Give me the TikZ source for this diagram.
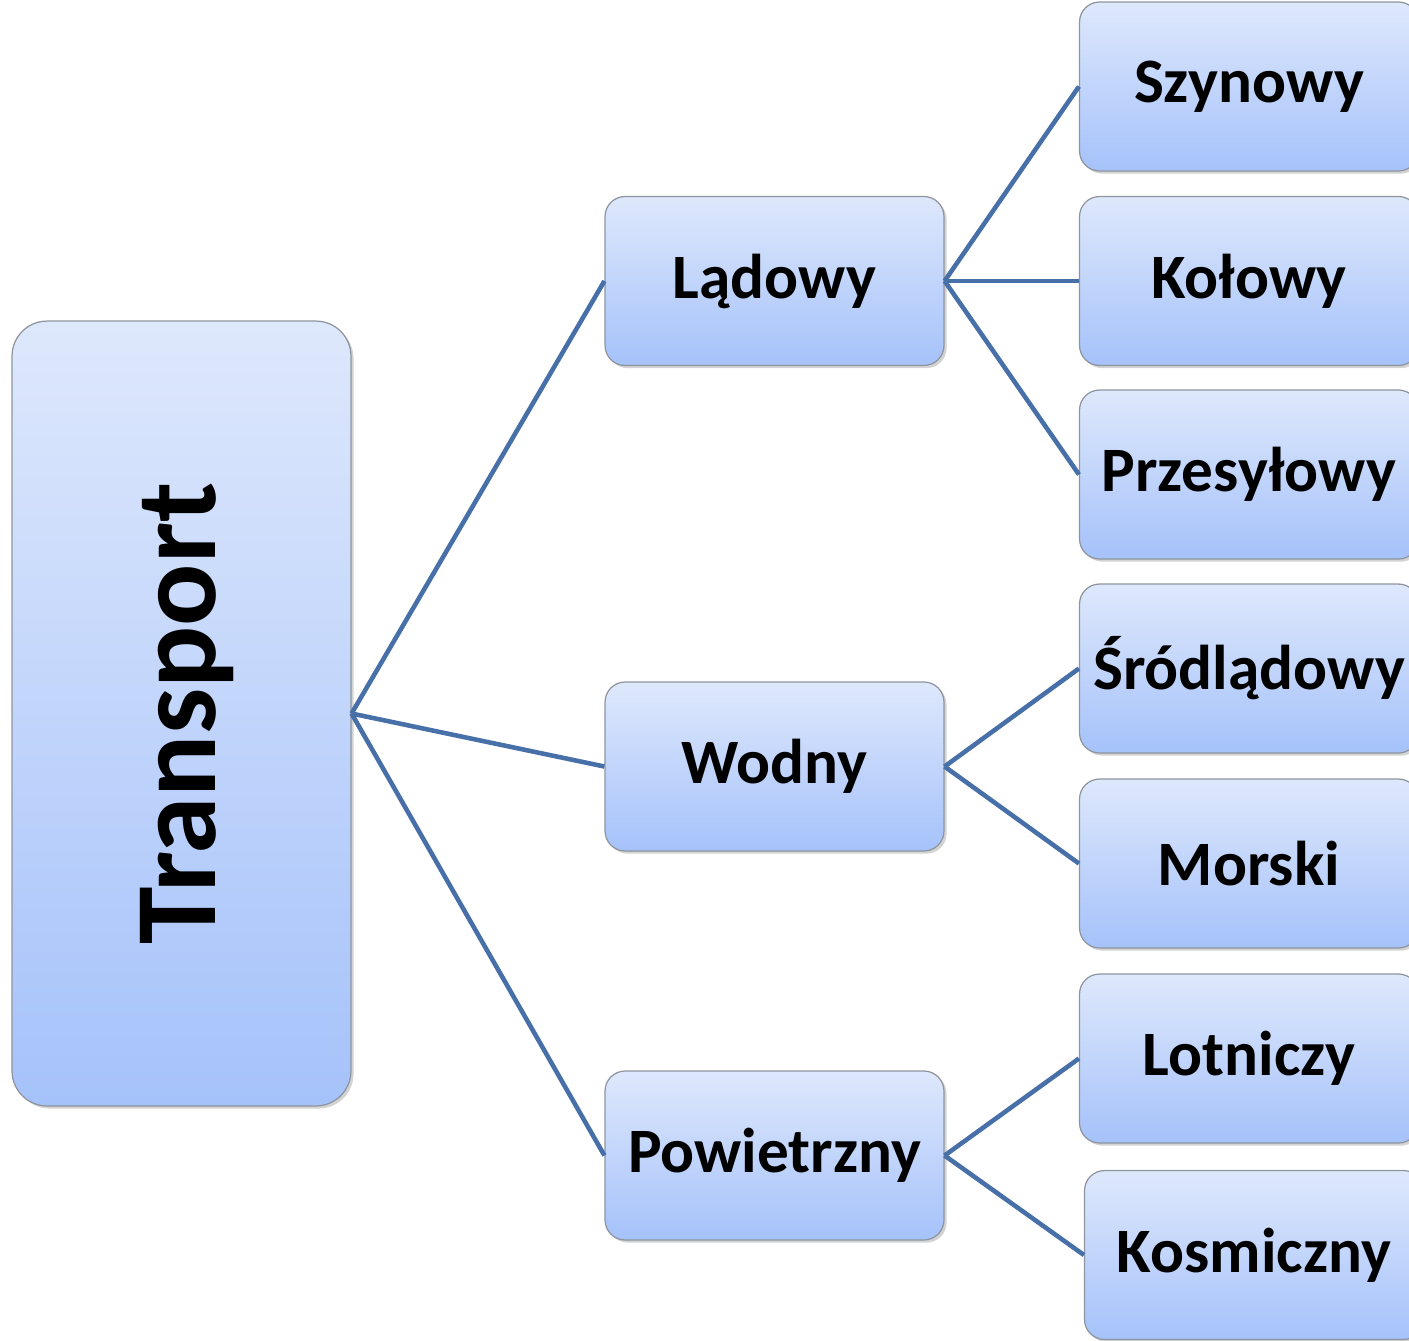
\documentclass[tikz,border=0pt]{standalone}
\usepackage{fontspec}
\setmainfont{Carlito}
\usetikzlibrary{shadows}

\definecolor{boxtop}{HTML}{DEE8FC}
\definecolor{boxbot}{HTML}{A5C2FA}
\definecolor{boxline}{HTML}{8E959E}
\definecolor{link}{HTML}{4870A8}

\begin{document}
\begin{tikzpicture}[x=0.02cm,y=-0.02cm,
  box/.style={draw=boxline,line width=0.7pt,top color=boxtop,bottom color=boxbot,
    rounded corners=0.4cm,minimum width=6.78cm,minimum height=3.38cm,
    font=\fontsize{36}{40}\selectfont\bfseries,
    drop shadow={opacity=0.35,shadow xshift=1.5pt,shadow yshift=-1.5pt}},
  link/.style={draw=link,line width=2.6pt}]
  \useasboundingbox (0,0) rectangle (1409,1340);
  \clip (0,0) rectangle (1409,1340);
 % \draw[help lines] (0,0) grid (1409,1340);
  \node[box,minimum height=15.7cm,rounded corners=0.7cm] (trans) at (181.5,713.5)
     {\hspace*{0.22cm}\rotatebox{90}{\fontsize{66}{70}\selectfont Transport}};
  \node[box] (lad)  at (774.5,281)    {Lądowy};
  \node[box] (wod)  at (774.5,766.5)  {Wodny};
  \node[box] (pow)  at (774.5,1155.5) {Powietrzny};
  \node[box] (szy)  at (1249,86.5)    {Szynowy};
  \node[box] (kol)  at (1249,281)     {Kołowy};
  \node[box] (prz)  at (1249,474.5)   {Przesyłowy};
  \node[box] (sro)  at (1249,668.5)   {Śródlądowy};
  \node[box] (mor)  at (1249,863.5)   {Morski};
  \node[box] (lot)  at (1249,1058.5)  {Lotniczy};
  \node[box] (kos)  at (1254,1255)    {Kosmiczny};
  \path[link] (trans.east) edge (lad.west)
                (trans.east) edge (wod.west)
                (trans.east) edge (pow.west)
                (lad.east) edge (szy.west)
                (lad.east) edge (kol.west)
                (lad.east) edge (prz.west)
                (wod.east) edge (sro.west)
                (wod.east) edge (mor.west)
                (pow.east) edge (lot.west)
                (pow.east) edge (kos.west);
\end{tikzpicture}
\end{document}
